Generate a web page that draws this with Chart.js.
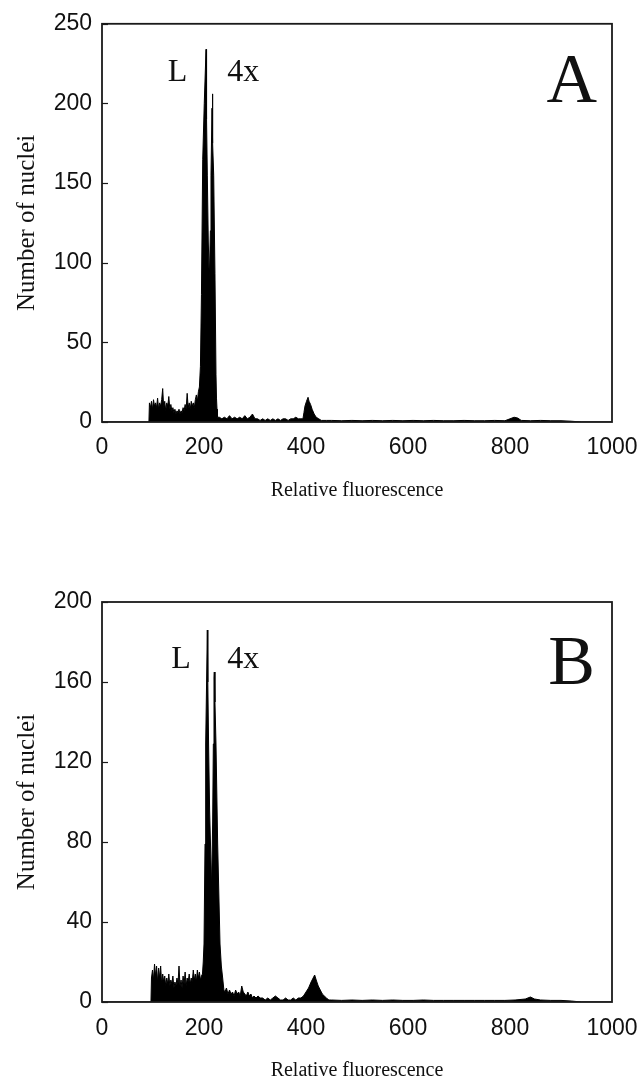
<!DOCTYPE html>
<html>
<head>
<meta charset="utf-8">
<script src="https://cdn.jsdelivr.net/npm/chart.js@4.4.1/dist/chart.umd.min.js"></script>
<style>
  html, body { margin: 0; padding: 0; background: #fff; }
  .panel { position: absolute; left: 0; width: 642px; }
  #wrapA { top: 0; height: 560px; }
  #wrapB { top: 560px; height: 524px; }
</style>
</head>
<body>
<div class="panel" id="wrapA"><canvas id="chartA"></canvas></div>
<div class="panel" id="wrapB"><canvas id="chartB"></canvas></div>
<script>
// Panel A — relative fluorescence channel / number of nuclei
const aFluor = [
    0, 92, 93, 95, 97, 99, 101, 103, 105, 107,
    109, 111, 113, 115, 117, 119, 121, 123, 125, 127,
    129, 131, 133, 135, 137, 139, 141, 143, 145, 147,
    149, 151, 153, 155, 157, 159, 161, 163, 165, 167,
    169, 171, 173, 175, 177, 179, 181, 183, 185, 187,
    189, 191, 193, 195, 197.5, 200.5, 204, 205, 206.5, 208.4,
    210.4, 212.5, 213.7, 215.7, 216.3, 217.5, 219, 221.5, 223.5, 224.5,
    225.5, 226.5, 230, 235, 240, 245, 250, 255, 260, 265,
    270, 275, 280, 285, 290, 295, 300, 305, 310, 315,
    320, 325, 330, 335, 340, 345, 350, 355, 360, 365,
    370, 375, 380, 385, 390, 394, 396, 398, 401, 404,
    406, 409, 412, 416, 420, 425, 430, 440, 450, 470,
    490, 510, 530, 550, 570, 590, 610, 630, 650, 670,
    690, 710, 730, 750, 770, 790, 800, 808, 815, 822,
    840, 860, 880, 900, 920, 940, 1000
];
const aNuclei = [
    0, 0, 12, 9, 13, 8, 14, 10, 12, 9,
    15, 8, 12, 10, 14, 21, 9, 13, 7, 12,
    10, 16, 8, 11, 7, 9, 6, 8, 5, 7,
    6, 8, 5, 7, 6, 9, 7, 11, 8, 18,
    9, 12, 8, 13, 10, 12, 9, 14, 17, 13,
    19, 22, 35, 80, 165, 200, 234, 190, 155, 113,
    89, 120, 155, 197, 206, 175, 155, 93, 30, 15,
    8, 3, 3, 2, 3, 2, 4, 2, 3, 2,
    3, 2, 4, 2, 3, 5, 2, 2, 1, 2,
    1, 2, 1, 2, 1, 2, 1, 2, 2, 1,
    2, 2, 3, 2, 2, 2, 6, 10, 13, 15.5,
    13, 11, 8, 5, 3, 2, 1, 1, 1, 0.8,
    1, 0.8, 1, 0.8, 1, 0.8, 1, 0.8, 1, 0.8,
    0.8, 1, 0.8, 0.8, 1, 0.8, 2, 3, 2.5, 1,
    0.8, 1, 0.8, 0.8, 0.5, 0, 0
];

// Panel B
const bFluor = [
    0, 96, 97, 99, 101, 103, 105, 107, 109, 111,
    113, 115, 117, 119, 121, 123, 125, 127, 129, 131,
    133, 135, 137, 139, 141, 143, 145, 147, 149, 151,
    153, 155, 157, 159, 161, 163, 165, 167, 169, 171,
    173, 175, 177, 179, 181, 183, 185, 187, 189, 191,
    193, 195, 197, 198.5, 200, 202, 203.3, 205.2, 206.5, 207.5,
    209, 211, 215, 217, 218.3, 219.6, 220.2, 221.5, 223.5, 226.8,
    231.4, 234, 236.6, 239, 241, 244, 247, 250, 253, 256,
    259, 262, 265, 268, 271, 274, 277, 280, 283, 286,
    289, 292, 295, 298, 302, 306, 310, 315, 320, 325,
    330, 335, 340, 345, 350, 355, 360, 365, 370, 375,
    380, 385, 390, 395, 400, 405, 410, 414, 417, 420,
    424, 428, 432, 436, 440, 445, 450, 470, 490, 510,
    530, 550, 570, 590, 610, 630, 650, 670, 690, 710,
    730, 750, 770, 790, 810, 830, 840, 848, 860, 880,
    900, 920, 940, 1000
];
const bNuclei = [
    0, 0, 12, 16, 11, 19, 13, 18, 10, 17,
    12, 18, 9, 14, 10, 13, 8, 12, 9, 14,
    8, 11, 9, 13, 7, 10, 8, 12, 9, 18,
    8, 11, 7, 13, 9, 15, 8, 12, 10, 14,
    9, 12, 10, 16, 11, 14, 10, 16, 12, 15,
    11, 13, 14, 20, 29, 79, 129, 162, 186, 160,
    129, 96, 57, 90, 129, 162, 165, 150, 129, 79,
    29, 18, 12, 6, 5, 7, 4, 6, 4, 5,
    3, 6, 4, 5, 3, 8, 5, 4, 3, 5,
    3, 4, 2, 3, 2, 3, 2, 2, 1, 2,
    1, 2, 3, 2, 1, 1, 2, 1, 1, 2,
    1, 2, 2, 3, 5, 7, 10, 12, 13.5, 11,
    8, 6, 4, 3, 2, 1, 1, 0.8, 1, 0.8,
    1, 0.8, 1, 0.8, 0.8, 1, 0.8, 0.8, 0.8, 0.8,
    0.8, 0.8, 0.8, 0.8, 1, 1.5, 2.5, 1.5, 1, 0.8,
    0.8, 0.5, 0, 0
];

const xTicks = [0, 200, 400, 600, 800, 1000];
const aYTicks = [0, 50, 100, 150, 200, 250];
const bYTicks = [0, 40, 80, 120, 160, 200];

const SERIF = '"Liberation Serif", "Times New Roman", serif';
const SANS = '"Liberation Sans", Arial, sans-serif';

// Box round the plot area plus short inward ticks on the y axis.
const framePlugin = {
    id: 'frame',
    afterDatasetsDraw(chart) {
        const { ctx, chartArea: a } = chart;
        const ys = chart.scales.y;
        ctx.save();
        ctx.strokeStyle = '#1a1a1a';
        ctx.lineWidth = 1.8;
        ctx.strokeRect(a.left, a.top, a.right - a.left, a.bottom - a.top);
        ctx.lineWidth = 1.2;
        ys.ticks.forEach(t => {
            const y = Math.round(ys.getPixelForValue(t.value)) + 0.5;
            ctx.beginPath();
            ctx.moveTo(a.left, y);
            ctx.lineTo(a.left + 6, y);
            ctx.stroke();
        });
        ctx.restore();
    }
};

// Free text in data coordinates (peak labels and panel letter).
const notesPlugin = {
    id: 'notes',
    afterDraw(chart, args, opts) {
        const { ctx } = chart;
        const xs = chart.scales.x, ys = chart.scales.y;
        ctx.save();
        ctx.fillStyle = '#111';
        ctx.textAlign = 'center';
        ctx.textBaseline = 'alphabetic';
        (opts.items || []).forEach(n => {
            ctx.font = n.size + 'px ' + SERIF;
            ctx.fillText(n.text, xs.getPixelForValue(n.x), ys.getPixelForValue(n.y));
        });
        ctx.restore();
    }
};

function makeHistogram(id, fluor, nuclei, yTicks, pad, xAxisH, tickGap, notes) {
    const points = fluor.map((f, i) => ({ x: f, y: nuclei[i] }));
    return new Chart(document.getElementById(id), {
        type: 'line',
        data: {
            datasets: [{
                data: points,
                borderColor: '#000',
                backgroundColor: '#000',
                borderWidth: 1,
                pointRadius: 0,
                tension: 0,
                fill: 'origin'
            }]
        },
        options: {
            responsive: true,
            maintainAspectRatio: false,
            animation: false,
            layout: { padding: pad },
            plugins: {
                legend: { display: false },
                tooltip: { enabled: false },
                notes: { items: notes }
            },
            scales: {
                x: {
                    type: 'linear',
                    min: 0,
                    max: 1000,
                    afterBuildTicks: s => { s.ticks = xTicks.map(v => ({ value: v })); },
                    afterFit: s => { s.height = xAxisH; },
                    // invisible tick length only pushes the labels down
                    grid: { display: false, drawTicks: true, tickLength: tickGap },
                    border: { display: false },
                    ticks: { color: '#111', padding: 3, maxRotation: 0, autoSkip: false,
                             callback: v => String(v),
                             font: { family: SANS, size: 23 } },
                    title: { display: true, text: 'Relative fluorescence', color: '#111',
                             padding: 0, font: { family: SERIF, size: 20, lineHeight: 1 } }
                },
                y: {
                    min: 0,
                    max: yTicks[yTicks.length - 1],
                    afterBuildTicks: s => { s.ticks = yTicks.map(v => ({ value: v })); },
                    afterFit: s => { s.width = 102 - pad.left; },
                    grid: { display: false, drawTicks: false },
                    border: { display: false },
                    ticks: { color: '#111', padding: 10, callback: v => String(v),
                             font: { family: SANS, size: 23 } },
                    title: { display: true, text: 'Number of nuclei', color: '#111',
                             padding: 0, font: { family: SERIF, size: 25, lineHeight: 1 } }
                }
            }
        },
        plugins: [framePlugin, notesPlugin]
    });
}

makeHistogram('chartA', aFluor, aNuclei, aYTicks,
    { left: 15, top: 22, right: 30, bottom: 59 }, 79, 9,
    [
        { text: 'L', x: 148, y: 214, size: 32 },
        { text: '4x', x: 277, y: 214, size: 32 },
        { text: 'A', x: 921, y: 201, size: 70 }
    ]);

makeHistogram('chartB', bFluor, bNuclei, bYTicks,
    { left: 15, top: 42, right: 30, bottom: 3 }, 79, 10,
    [
        { text: 'L', x: 155, y: 167, size: 32 },
        { text: '4x', x: 277, y: 167, size: 32 },
        { text: 'B', x: 921, y: 159, size: 70 }
    ]);
</script>
</body>
</html>
